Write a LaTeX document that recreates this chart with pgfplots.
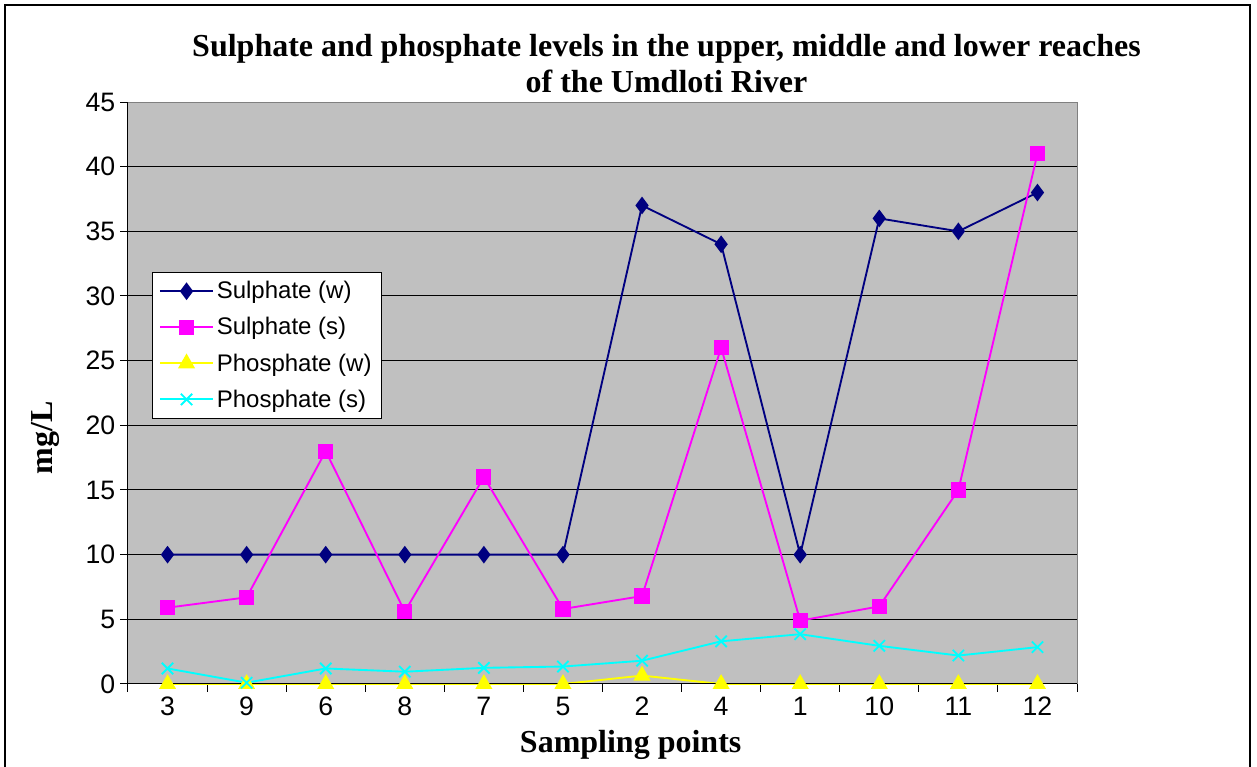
\documentclass[border=0pt]{standalone}
\usepackage{pgfplots}
\pgfplotsset{compat=1.18}
\usepackage{fontspec}
\setmainfont{Liberation Serif}
\newfontfamily\arial{Liberation Sans}
\definecolor{navyc}{RGB}{0,0,128}
\definecolor{magc}{RGB}{255,0,255}
\definecolor{yelc}{RGB}{255,255,0}
\definecolor{cyac}{RGB}{0,255,255}
\definecolor{plotbg}{RGB}{192,192,192}
\begin{document}
\begin{tikzpicture}[x=1pt,y=1pt]
\clip (-96,-62.25) rectangle (846.75,513);
\draw[line width=1.5pt] (-92.25,509.25) rectangle (841.5,-80);
\begin{axis}[
  at={(0,0)}, anchor=south west,
  scale only axis, width=711.75pt, height=436.5pt,
  xmin=-0.5, xmax=11.5, ymin=0, ymax=45,
  axis background/.style={fill=plotbg},
  xtick={0,...,11},
  xticklabels={3,9,6,8,7,5,2,4,1,10,11,12},
  minor xtick={-0.5,0.5,...,11.5},
  ytick={0,5,...,45},
  xtick pos=bottom, ytick pos=left,
  ymajorgrids,
  grid style={black, line width=0.75pt},
  major x tick style={draw=none},
  minor x tick style={black, line width=0.75pt},
  major y tick style={black, line width=0.75pt},
  tick align=outside,
  major tick length=6pt, minor tick length=6pt,
  axis line style={draw=none},
  ticklabel style={font=\arial\fontsize{20}{24}\selectfont},
  /pgf/number format/assume math mode=true,
  legend style={at={(0.0253,0.708)}, anchor=north west, draw=black, fill=white,
    font=\arial\fontsize{18}{21}\selectfont, row sep=8.5pt, inner sep=5pt,
    legend cell align=left},
  legend image code/.code={\draw[mark repeat=2,mark phase=2] plot coordinates {(0pt,0pt)(20pt,0pt)(40pt,0pt)};},
  clip=false,
]
\addplot[navyc, line width=1.4pt, mark=diamond*, mark size=5.5pt, mark options={fill=navyc}] coordinates {
(0,10)(1,10)(2,10)(3,10)(4,10)(5,10)(6,37)(7,34)(8,10)(9,36)(10,35)(11,38)};
\addlegendentry{Sulphate (w)}
\addplot[magc, line width=1.4pt, mark=square*, mark size=5pt, mark options={fill=magc}] coordinates {
(0,5.9)(1,6.7)(2,18)(3,5.6)(4,16)(5,5.8)(6,6.8)(7,26)(8,4.9)(9,6.0)(10,15)(11,41)};
\addlegendentry{Sulphate (s)}
\addplot[yelc, line width=1.4pt, mark=triangle*, mark size=6pt, mark options={fill=yelc}] coordinates {
(0,0)(1,0)(2,0)(3,0)(4,0)(5,0)(6,0.65)(7,0)(8,0)(9,0)(10,0)(11,0)};
\addlegendentry{Phosphate (w)}
\addplot[cyac, line width=1.4pt, mark=x, mark size=6pt] coordinates {
(0,1.2)(1,0.1)(2,1.2)(3,0.95)(4,1.25)(5,1.35)(6,1.8)(7,3.3)(8,3.85)(9,2.95)(10,2.2)(11,2.85)};
\addlegendentry{Phosphate (s)}
\draw[black, line width=0.75pt] (axis cs:-0.5,0) -- (axis cs:-0.5,45);
\draw[black, line width=0.75pt] (axis cs:-0.5,0) -- (axis cs:11.5,0);
\draw[gray, line width=0.75pt] (axis cs:-0.5,45) -- (axis cs:11.5,45) -- (axis cs:11.5,0);
\end{axis}
\node[align=center, font=\bfseries\fontsize{24}{27}\selectfont] at (403.9,465.5)
  {Sulphate and phosphate levels in the upper, middle and lower reaches\\of the Umdloti River};
\node[rotate=90, font=\bfseries\fontsize{24}{28}\selectfont] at (-62.25,184.5) {mg/L};
\node[font=\bfseries\fontsize{24}{28}\selectfont] at (377,-45.75) {Sampling points};
\end{tikzpicture}
\end{document}
